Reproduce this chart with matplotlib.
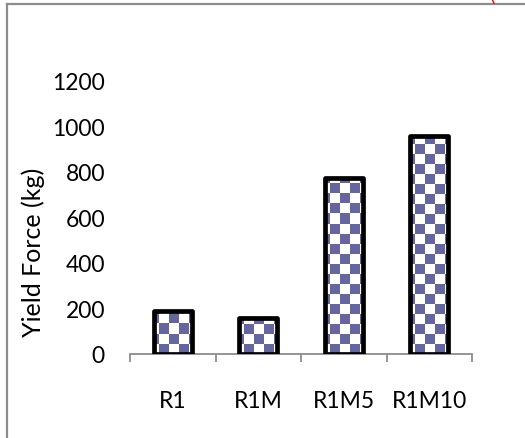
import numpy as np
import matplotlib.pyplot as plt
from matplotlib.colors import ListedColormap
from matplotlib.lines import Line2D

plt.rcParams['font.family'] = ['Lato', 'DejaVu Sans']

categories = ['R1', 'R1M', 'R1M5', 'R1M10']
yield_force = [190, 160, 775, 958]
y_ticks = [0, 200, 400, 600, 800, 1000, 1200]

W, H = 525, 439
fig = plt.figure(figsize=(W / 100, H / 100), dpi=100)
ax = fig.add_axes([130 / W, 1 - 355 / H, (472 - 130) / W, (355 - 82) / H])

x = np.arange(len(categories))
bar_w = 0.45
bars = ax.bar(x, yield_force, width=bar_w, facecolor='none', edgecolor='black',
              linewidth=3.4, joinstyle='round', zorder=3)

# checkerboard fill, clipped to each bar
ax.set_xlim(-0.5, len(categories) - 0.5)
ax.set_ylim(0, 1200)
px_x = len(categories) / (472 - 130)
px_y = 1200 / (355 - 82)
sq_x, sq_y = 10 * px_x, 10 * px_y
checker = ListedColormap(['#ffffff', '#65659f'])
for xi, h, b in zip(x, yield_force, bars):
    nx = int(np.ceil(bar_w / sq_x)) + 1
    ny = int(np.ceil(h / sq_y)) + 1
    ii, jj = np.indices((ny, nx))
    board = (ii + jj) % 2
    x0 = xi - bar_w / 2 - 0.5 * sq_x
    im = ax.imshow(board, cmap=checker,
                   extent=(x0, x0 + nx * sq_x, 0, ny * sq_y), origin='lower',
                   interpolation='nearest', aspect='auto', zorder=2)
    im.set_clip_path(b)

ax.set_xlim(-0.5, len(categories) - 0.5)
ax.set_ylim(0, 1200)
ax.set_yticks(y_ticks)
ax.set_xticks(x)
ax.set_xticklabels(categories)
ax.set_xticks(np.arange(len(categories) + 1) - 0.5, minor=True)

for s in ['left', 'right', 'top']:
    ax.spines[s].set_visible(False)
ax.spines['bottom'].set_color('#8c8c8c')
ax.spines['bottom'].set_linewidth(1.3)
ax.tick_params(axis='x', which='major', length=0, pad=26, labelsize=16.5)
ax.tick_params(axis='x', which='minor', length=6, width=1.3, color='#8c8c8c', direction='out')
ax.tick_params(axis='y', length=0, pad=18, labelsize=16.5)

fig.text(33 / W, 1 - 252 / H, 'Yield Force (kg)', rotation=90, fontsize=18,
         ha='center', va='center')

# frame lines at the left and top
fig.add_artist(Line2D([7 / W, 7 / W], [0, 1 - 5 / H], color='#8c8c8c', linewidth=1.6))
fig.add_artist(Line2D([7 / W, 1], [1 - 5 / H, 1 - 5 / H], color='#8c8c8c', linewidth=1.6))
fig.add_artist(Line2D([492 / W, 494 / W], [1, 1 - 4 / H], color='red', linewidth=1.0))

fig.savefig('out.png', dpi=100)
